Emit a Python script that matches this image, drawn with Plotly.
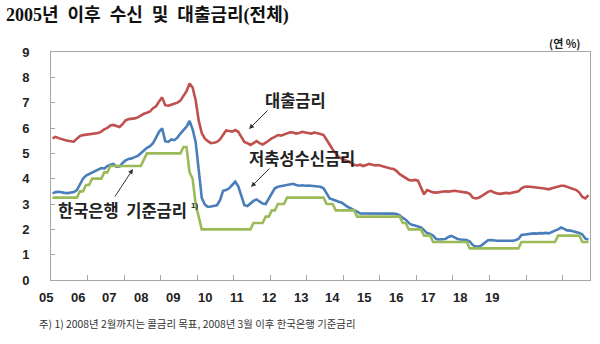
import plotly.graph_objects as go

# ---------------- data ----------------
months = [f"{y}-{m:02d}" for y in range(2005, 2020) for m in range(1, 13)][:177]
year_labels = ["05", "06", "07", "08", "09", "10", "11", "12", "13", "14", "15", "16", "17", "18", "19"]

loan_rate = [
    5.59, 5.65, 5.60, 5.55, 5.53, 5.50, 5.48, 5.46, 5.58, 5.68, 5.72, 5.74,
    5.74, 5.76, 5.78, 5.80, 5.86, 5.95, 6.00, 6.10, 6.12, 6.08, 6.04, 6.15,
    6.30, 6.35, 6.36, 6.38, 6.42, 6.50, 6.56, 6.60, 6.65, 6.78, 6.86, 7.05,
    7.21, 6.90, 6.88, 6.92, 6.95, 7.00, 7.08, 7.25, 7.45, 7.76, 7.60, 7.10,
    6.30, 5.80, 5.59, 5.48, 5.40, 5.42, 5.45, 5.55, 5.72, 5.90, 5.88, 5.86,
    5.92, 5.85, 5.65, 5.45, 5.40, 5.33, 5.40, 5.48, 5.40, 5.35, 5.42, 5.52,
    5.59, 5.65, 5.72, 5.70, 5.75, 5.80, 5.83, 5.82, 5.78, 5.80, 5.85, 5.82,
    5.80, 5.78, 5.82, 5.80, 5.76, 5.72, 5.55, 5.35, 5.15, 4.98, 4.85, 4.80,
    4.75, 4.70, 4.62, 4.55, 4.52, 4.55, 4.50, 4.54, 4.58, 4.55, 4.52, 4.54,
    4.50, 4.46, 4.42, 4.40, 4.38, 4.30, 4.18, 4.10, 4.00, 3.95, 3.93, 3.95,
    3.92, 3.68, 3.38, 3.55, 3.50, 3.46, 3.45, 3.47, 3.48, 3.50, 3.49, 3.52,
    3.52, 3.50, 3.49, 3.47, 3.45, 3.40, 3.25, 3.22, 3.25, 3.32, 3.40, 3.48,
    3.52, 3.45, 3.42, 3.40, 3.42, 3.44, 3.42, 3.44, 3.46, 3.50, 3.62, 3.68,
    3.69, 3.68, 3.66, 3.65, 3.64, 3.62, 3.60, 3.58, 3.62, 3.66, 3.70, 3.72,
    3.72, 3.68, 3.62, 3.57, 3.55, 3.45, 3.28, 3.22, 3.35,
]

deposit_rate = [
    3.42, 3.47, 3.48, 3.45, 3.44, 3.43, 3.44, 3.47, 3.55, 3.80, 4.00, 4.12,
    4.18, 4.22, 4.30, 4.36, 4.42, 4.40, 4.50, 4.55, 4.58, 4.47, 4.48, 4.62,
    4.72, 4.78, 4.80, 4.85, 4.90, 5.00, 5.12, 5.22, 5.28, 5.40, 5.62, 5.85,
    5.99, 5.48, 5.45, 5.55, 5.52, 5.62, 5.78, 5.92, 6.05, 6.28, 5.95, 5.45,
    4.30, 3.25, 2.98, 2.89, 2.90, 2.93, 2.95, 3.15, 3.52, 3.55, 3.62, 3.75,
    3.88, 3.70, 3.30, 2.95, 2.92, 3.02, 3.12, 3.18, 3.10, 3.02, 3.00, 3.20,
    3.45, 3.62, 3.68, 3.70, 3.72, 3.75, 3.78, 3.80, 3.75, 3.72, 3.74, 3.72,
    3.73, 3.72, 3.72, 3.70, 3.68, 3.62, 3.40, 3.22, 3.18, 3.12, 3.09, 3.05,
    2.95, 2.88, 2.83, 2.78, 2.70, 2.63, 2.63, 2.62, 2.63, 2.64, 2.62, 2.63,
    2.63, 2.62, 2.63, 2.63, 2.62, 2.60, 2.55, 2.45, 2.38, 2.25, 2.18, 2.15,
    2.12, 2.08, 1.97, 1.85, 1.82, 1.75, 1.62, 1.60, 1.61, 1.62, 1.70, 1.74,
    1.68, 1.62, 1.60, 1.58, 1.58, 1.52, 1.38, 1.32, 1.32, 1.38, 1.48, 1.57,
    1.58, 1.56, 1.55, 1.55, 1.55, 1.54, 1.55, 1.55, 1.57, 1.62, 1.78, 1.80,
    1.82, 1.82, 1.84, 1.83, 1.85, 1.84, 1.86, 1.84, 1.88, 1.95, 2.00, 2.07,
    2.02, 1.96, 1.95, 1.93, 1.90, 1.86, 1.80, 1.63, 1.60,
]

base_rate = [
    3.25, 3.25, 3.25, 3.25, 3.25, 3.25, 3.25, 3.25, 3.25, 3.50, 3.50, 3.75,
    3.75, 4.00, 4.00, 4.00, 4.00, 4.25, 4.25, 4.50, 4.50, 4.50, 4.50, 4.50,
    4.50, 4.50, 4.50, 4.50, 4.50, 4.50, 4.75, 5.00, 5.00, 5.00, 5.00, 5.00,
    5.00, 5.00, 5.00, 5.00, 5.00, 5.00, 5.00, 5.25, 5.25, 4.25, 4.00, 3.00,
    2.50, 2.00, 2.00, 2.00, 2.00, 2.00, 2.00, 2.00, 2.00, 2.00, 2.00, 2.00,
    2.00, 2.00, 2.00, 2.00, 2.00, 2.00, 2.25, 2.25, 2.25, 2.25, 2.50, 2.50,
    2.75, 2.75, 3.00, 3.00, 3.00, 3.25, 3.25, 3.25, 3.25, 3.25, 3.25, 3.25,
    3.25, 3.25, 3.25, 3.25, 3.25, 3.25, 3.00, 3.00, 3.00, 2.75, 2.75, 2.75,
    2.75, 2.75, 2.75, 2.75, 2.50, 2.50, 2.50, 2.50, 2.50, 2.50, 2.50, 2.50,
    2.50, 2.50, 2.50, 2.50, 2.50, 2.50, 2.50, 2.25, 2.25, 2.00, 2.00, 2.00,
    2.00, 2.00, 1.75, 1.75, 1.75, 1.50, 1.50, 1.50, 1.50, 1.50, 1.50, 1.50,
    1.50, 1.50, 1.50, 1.50, 1.50, 1.25, 1.25, 1.25, 1.25, 1.25, 1.25, 1.25,
    1.25, 1.25, 1.25, 1.25, 1.25, 1.25, 1.25, 1.25, 1.25, 1.25, 1.50, 1.50,
    1.50, 1.50, 1.50, 1.50, 1.50, 1.50, 1.50, 1.50, 1.50, 1.50, 1.75, 1.75,
    1.75, 1.75, 1.75, 1.75, 1.75, 1.75, 1.50, 1.50, 1.50,
]

# ---------------- layout helpers ----------------
W, H = 600, 344
L, R, T, B = 51, 10, 52, 64
PW, PH = W - L - R, H - T - B


def px(x):
    return (x - L) / PW


def py(y):
    return (H - B - y) / PH


x_idx = list(range(len(months)))
n = len(months)

fig = go.Figure()
fig.add_trace(go.Scatter(x=x_idx, y=loan_rate, mode="lines", name="대출금리",
                         line=dict(color="#C0504D", width=2.6)))
fig.add_trace(go.Scatter(x=x_idx, y=deposit_rate, mode="lines", name="저축성수신금리",
                         line=dict(color="#4A7EBB", width=2.6)))
fig.add_trace(go.Scatter(x=x_idx, y=base_rate, mode="lines", name="한국은행 기준금리",
                         line=dict(color="#9BBB59", width=2.6)))

year_ticks = [12 * k - 0.5 for k in range(1, 15)]

fig.update_layout(
    width=W, height=H,
    margin=dict(l=L, r=R, t=T, b=B),
    paper_bgcolor="white", plot_bgcolor="white",
    showlegend=False,
    xaxis=dict(range=[-0.5, n - 0.5], tickmode="array", tickvals=year_ticks,
               ticks="inside", ticklen=5, tickcolor="#A6A6A6", showticklabels=False,
               showgrid=False, zeroline=False, showline=True, linecolor="#A6A6A6",
               linewidth=1, mirror=True),
    yaxis=dict(range=[0, 9], tickmode="array", tickvals=list(range(10)),
               ticks="inside", ticklen=4, tickcolor="#A6A6A6",
               tickfont=dict(family="Liberation Sans, Arial", size=13, color="#222222",
                             weight="bold"),
               ticklabelstandoff=18,
               showgrid=False, zeroline=False, showline=True, linecolor="#A6A6A6",
               linewidth=1, mirror=True),
)

ann = []
# year labels below the axis
for i, lab in enumerate(year_labels):
    ann.append(dict(x=px(45.8 + 31.84 * i), y=py(297), xref="paper", yref="paper",
                    text=lab, showarrow=False, xanchor="center", yanchor="middle",
                    font=dict(family="Liberation Sans, Arial", size=13, color="#222222",
                              weight="bold")))

NB = "\u00a0"
title_text = ("2005년" + NB * 2 + "이후" + NB * 2 + "수신" + NB * 2 + "및" + NB * 2
              + "대출금리(전체)")
ann.append(dict(x=px(4), y=py(16), xref="paper", yref="paper",
                text=title_text, showarrow=False,
                xanchor="left", yanchor="middle",
                font=dict(family="Liberation Serif, Noto Sans CJK KR", size=18,
                          color="#111111", weight="bold")))
# unit
ann.append(dict(x=px(583), y=py(43), xref="paper", yref="paper",
                text="(연 %)", showarrow=False, xanchor="right", yanchor="middle",
                font=dict(family="Noto Sans CJK KR", size=11, color="#222222",
                          weight="bold")))
# footnote
ann.append(dict(x=px(37), y=py(323), xref="paper", yref="paper",
                text="주) 1) 2008년 2월까지는 콜금리 목표, 2008년 3월 이후 한국은행 기준금리",
                showarrow=False, xanchor="left", yanchor="middle",
                font=dict(family="Noto Sans CJK KR", size=10.4, color="#333333")))

label_font = dict(family="Noto Sans CJK KR", size=16.5, color="#222222", weight="bold")
ann.append(dict(x=px(295), y=py(100), xref="paper", yref="paper", text="대출금리",
                showarrow=False, xanchor="center", yanchor="middle", font=label_font))
ann.append(dict(x=px(302), y=py(158), xref="paper", yref="paper", text="저축성수신금리",
                showarrow=False, xanchor="center", yanchor="middle", font=label_font))
ann.append(dict(x=px(56), y=py(210), xref="paper", yref="paper",
                text="한국은행" + NB * 2 + "기준금리",
                showarrow=False, xanchor="left", yanchor="middle", font=label_font))
ann.append(dict(x=px(189), y=py(205), xref="paper", yref="paper",
                text="1)", showarrow=False, xanchor="left", yanchor="middle",
                font=dict(family="Liberation Sans, Arial", size=8, color="#222222",
                          weight="bold")))

# arrows
for (hx, hy, tx, ty) in [(249, 129, 269, 109), (251, 187, 271, 167), (133, 169, 114, 198)]:
    ann.append(dict(x=px(hx), y=py(hy), xref="paper", yref="paper", text="",
                    showarrow=True, ax=tx - hx, ay=ty - hy, arrowhead=2, arrowsize=1,
                    arrowwidth=1, arrowcolor="#333333"))

fig.update_layout(annotations=ann)
fig.write_html("out.html")
